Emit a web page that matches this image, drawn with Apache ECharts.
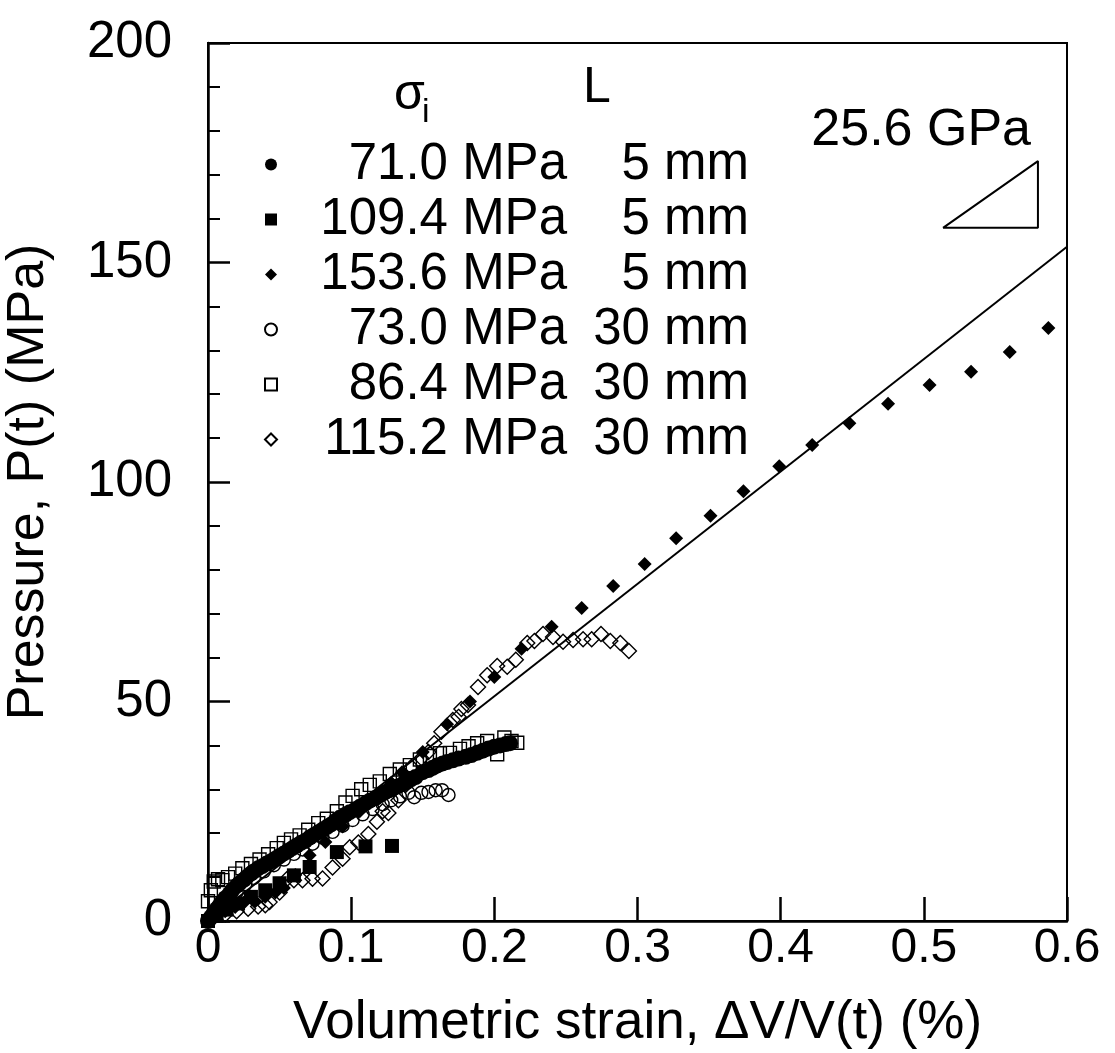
<!DOCTYPE html>
<html>
<head>
<meta charset="utf-8">
<script src="https://cdn.jsdelivr.net/npm/echarts@6/dist/echarts.min.js"></script>
<style>
html,body{margin:0;padding:0;background:#fff;}
#chart{width:1115px;height:1053px;}
</style>
</head>
<body>
<div id="chart"></div>
<script>
// ---- data (strain in %, pressure in MPa) ----
const seriesNames = ['71.0 MPa 5 mm','109.4 MPa 5 mm','153.6 MPa 5 mm','73.0 MPa 30 mm','86.4 MPa 30 mm','115.2 MPa 30 mm'];
const sigmaLabels = ['71.0 MPa','109.4 MPa','153.6 MPa','73.0 MPa','86.4 MPa','115.2 MPa'];
const lengthLabels = ['5 mm','5 mm','5 mm','30 mm','30 mm','30 mm'];
const xTicks = [0, 0.1, 0.2, 0.3, 0.4, 0.5, 0.6];
const yTicks = [0, 50, 100, 150, 200];

const circ71 = [[0.000,0.0],[0.002,0.9],[0.004,1.8],[0.006,2.7],[0.008,3.5],[0.010,4.4],[0.012,5.2],[0.015,6.2],[0.017,7.0],[0.020,8.0],[0.022,8.6],[0.025,9.4],[0.027,10.0],[0.030,10.8],[0.032,11.3],[0.035,12.0],[0.038,12.5],[0.041,13.1],[0.044,13.6],[0.047,14.2],[0.050,14.8],[0.053,15.4],[0.056,16.0],[0.059,16.6],[0.062,17.2],[0.065,17.8],[0.068,18.3],[0.071,19.0],[0.074,19.6],[0.077,20.2],[0.080,20.8],[0.083,21.4],[0.086,22.0],[0.089,22.8],[0.092,23.5],[0.096,24.2],[0.099,24.8],[0.103,25.4],[0.106,26.0],[0.110,26.8],[0.113,27.4],[0.117,28.0],[0.120,28.6],[0.123,29.2],[0.126,29.7],[0.129,30.2],[0.132,30.6],[0.136,31.2],[0.139,31.7],[0.142,32.3],[0.145,32.8],[0.150,33.9],[0.154,34.4],[0.157,34.9],[0.160,35.4],[0.164,35.9],[0.167,36.2],[0.171,36.6],[0.175,37.0],[0.180,37.4],[0.184,37.8],[0.188,38.3],[0.192,38.8],[0.196,39.3],[0.200,39.7],[0.204,40.0],[0.208,40.3],[0.211,40.5]];
const sq109 = [[0.000,0.0],[0.006,1.2],[0.013,2.6],[0.021,4.0],[0.030,5.5],[0.040,7.0],[0.050,8.6],[0.060,10.4],[0.071,12.3],[0.090,15.7],[0.110,17.0],[0.1285,17.1]];
const dia153 = [[0.000,0.5],[0.006,1.5],[0.012,2.2],[0.019,3.2],[0.026,4.5],[0.033,4.5],[0.040,5.5],[0.047,6.5],[0.053,7.5],[0.061,10.5],[0.071,15.0],[0.082,18.0],[0.094,21.5],[0.106,25.0],[0.118,28.5],[0.128,31.5],[0.1355,33.9],[0.150,38.5],[0.167,44.8],[0.183,50.0],[0.200,55.6],[0.219,62.0],[0.240,67.0],[0.261,71.3],[0.283,76.3],[0.305,81.3],[0.327,87.2],[0.351,92.3],[0.374,97.9],[0.399,103.6],[0.422,108.4],[0.448,113.4],[0.475,117.8],[0.504,122.1],[0.533,125.1],[0.560,129.6],[0.587,135.1]];
const circ73 = [[0.003,1.0],[0.008,2.8],[0.014,4.8],[0.020,6.6],[0.026,8.3],[0.032,9.8],[0.039,11.3],[0.046,12.7],[0.053,14.0],[0.060,15.3],[0.066,16.3],[0.073,17.6],[0.080,19.0],[0.087,20.3],[0.094,21.7],[0.101,23.0],[0.108,24.3],[0.115,25.5],[0.122,26.6],[0.128,27.5],[0.134,28.4],[0.140,29.2],[0.144,28.2],[0.149,29.2],[0.154,29.4],[0.159,29.8],[0.1635,29.8],[0.168,28.7]];
const sq86 = [[0.000,4.5],[0.002,7.0],[0.004,9.0],[0.007,9.5],[0.010,9.3],[0.014,10.0],[0.019,10.8],[0.024,12.0],[0.030,13.0],[0.036,14.0],[0.042,15.2],[0.048,16.6],[0.053,17.8],[0.058,18.6],[0.064,19.5],[0.070,20.8],[0.077,22.3],[0.083,23.3],[0.090,25.0],[0.096,27.0],[0.101,28.5],[0.107,30.0],[0.113,31.0],[0.120,31.8],[0.127,33.5],[0.134,34.5],[0.141,35.5],[0.148,36.8],[0.155,37.6],[0.162,38.2],[0.169,38.3],[0.176,39.2],[0.182,39.8],[0.188,40.5],[0.195,41.0],[0.202,38.0],[0.207,41.8],[0.212,41.0],[0.216,40.6]];
const dia115 = [[0.004,0.8],[0.012,1.5],[0.020,2.2],[0.028,2.8],[0.035,3.3],[0.040,3.6],[0.043,4.3],[0.050,6.5],[0.055,9.5],[0.060,9.3],[0.066,9.3],[0.073,9.6],[0.080,9.7],[0.087,12.2],[0.094,14.2],[0.099,16.8],[0.105,17.9],[0.112,19.8],[0.118,22.6],[0.122,25.0],[0.126,24.6],[0.133,27.5],[0.138,31.0],[0.142,35.1],[0.149,37.1],[0.154,38.5],[0.158,40.5],[0.163,43.1],[0.171,45.8],[0.175,46.5],[0.177,48.3],[0.1816,49.2],[0.1886,53.3],[0.195,56.0],[0.202,58.1],[0.209,57.9],[0.215,59.5],[0.223,63.3],[0.228,63.8],[0.234,65.4],[0.241,64.7],[0.248,63.6],[0.255,64.0],[0.262,64.2],[0.268,64.2],[0.2745,65.4],[0.281,63.8],[0.288,63.3],[0.294,61.5]];

// fitted line (25.6 GPa) and slope triangle
const fitLine = [[0, 0], [0.6, 153.6]];
const slopeTriangle = [[0.5134, 157.9], [0.5797, 173.1], [0.5797, 157.9], [0.5134, 157.9]];
const slopeLabel = '25.6 GPa';

const FONT = "'Liberation Sans', Arial, Helvetica, sans-serif";

const chart = echarts.init(document.getElementById('chart'), null, {renderer:'canvas'});

function sc(name, data, symbol, size, filled) {
  return {
    name: name, type: 'scatter', data: data, symbol: symbol, symbolSize: size,
    itemStyle: filled ? {color:'#000', borderColor:'#000', borderWidth:0, opacity:1}
                      : {color:'transparent', borderColor:'#000', borderWidth:1.4, opacity:1},
    emphasis:{disabled:true},
    z: filled ? 4 : 3
  };
}

const option = {
  animation: false,
  backgroundColor: '#fff',
  grid: {left:208, right:48, top:43, bottom:132, show:true, borderColor:'#000', borderWidth:2,
         backgroundColor:'transparent', containLabel:false, outerBoundsMode:'none'},
  xAxis: {
    type:'value', min:xTicks[0], max:xTicks[xTicks.length-1], interval:0.1,
    axisLine:{lineStyle:{color:'#000', width:2.5}},
    axisTick:{inside:true, length:24, lineStyle:{color:'#000', width:2.5}},
    splitLine:{show:false},
    axisLabel:{color:'#000', fontSize:48, fontFamily:FONT, margin:4,
      formatter: v => String(+v.toFixed(1))},
    name:'Volumetric strain, \u0394V/V(t) (%)', nameLocation:'middle', nameGap:76,
    nameTextStyle:{color:'#000', fontSize:53, fontFamily:FONT}
  },
  yAxis: {
    type:'value', min:yTicks[0], max:yTicks[yTicks.length-1], interval:50,
    axisLine:{lineStyle:{color:'#000', width:2.5}},
    axisTick:{inside:true, length:22, lineStyle:{color:'#000', width:2.5}},
    minorTick:{show:true, splitNumber:5, length:12, lineStyle:{color:'#000', width:2}},
    splitLine:{show:false},
    axisLabel:{color:'#000', fontSize:51, fontFamily:FONT, margin:36},
    name:'Pressure, P(t) (MPa)', nameLocation:'middle', nameGap:153,
    nameTextStyle:{color:'#000', fontSize:52, fontFamily:FONT}
  },
  legend: {
    left:259, top:134, orient:'vertical', itemGap:4, itemWidth:12, itemHeight:12,
    selectedMode:false,
    data: [
      {name:seriesNames[0], icon:'circle'},
      {name:seriesNames[1], icon:'rect'},
      {name:seriesNames[2], icon:'diamond'},
      {name:seriesNames[3], icon:'circle'},
      {name:seriesNames[4], icon:'rect'},
      {name:seriesNames[5], icon:'diamond'}
    ],
    formatter: function(name){
      const i = seriesNames.indexOf(name);
      return '{a|' + sigmaLabels[i] + '}{b|' + lengthLabels[i] + '}';
    },
    textStyle: {
      color:'#000', fontFamily:FONT, fontSize:51,
      rich: {
        a:{width:285, align:'right', fontSize:51, lineHeight:48, fontFamily:FONT, color:'#000'},
        b:{width:182, align:'right', fontSize:51, lineHeight:48, fontFamily:FONT, color:'#000'}
      }
    }
  },
  graphic: [
    {type:'text', left:394, top:70, style:{text:'\u03C3', font:'50px ' + FONT, fill:'#000'}},
    {type:'text', left:422, top:96, style:{text:'i', font:'34px ' + FONT, fill:'#000'}},
    {type:'text', left:583, top:63, style:{text:'L', font:'50px ' + FONT, fill:'#000'}},
    {type:'text', right:84, top:105, style:{text:slopeLabel, font:'52px ' + FONT, fill:'#000'}}
  ],
  series: [
    {name:'fit', type:'line', data:fitLine, showSymbol:false, symbol:'none',
     lineStyle:{color:'#000', width:2}, z:2, silent:true},
    {name:'triangle', type:'line', data:slopeTriangle, showSymbol:false, symbol:'none',
     lineStyle:{color:'#000', width:2}, z:2, silent:true},
    sc(seriesNames[3], circ73, 'circle', 13, false),
    sc(seriesNames[4], sq86, 'rect', 13, false),
    sc(seriesNames[5], dia115, 'diamond', 15, false),
    sc(seriesNames[0], circ71, 'circle', 16, true),
    sc(seriesNames[1], sq109, 'rect', 14, true),
    sc(seriesNames[2], dia153, 'diamond', 14, true)
  ]
};
chart.setOption(option);
</script>
</body>
</html>
